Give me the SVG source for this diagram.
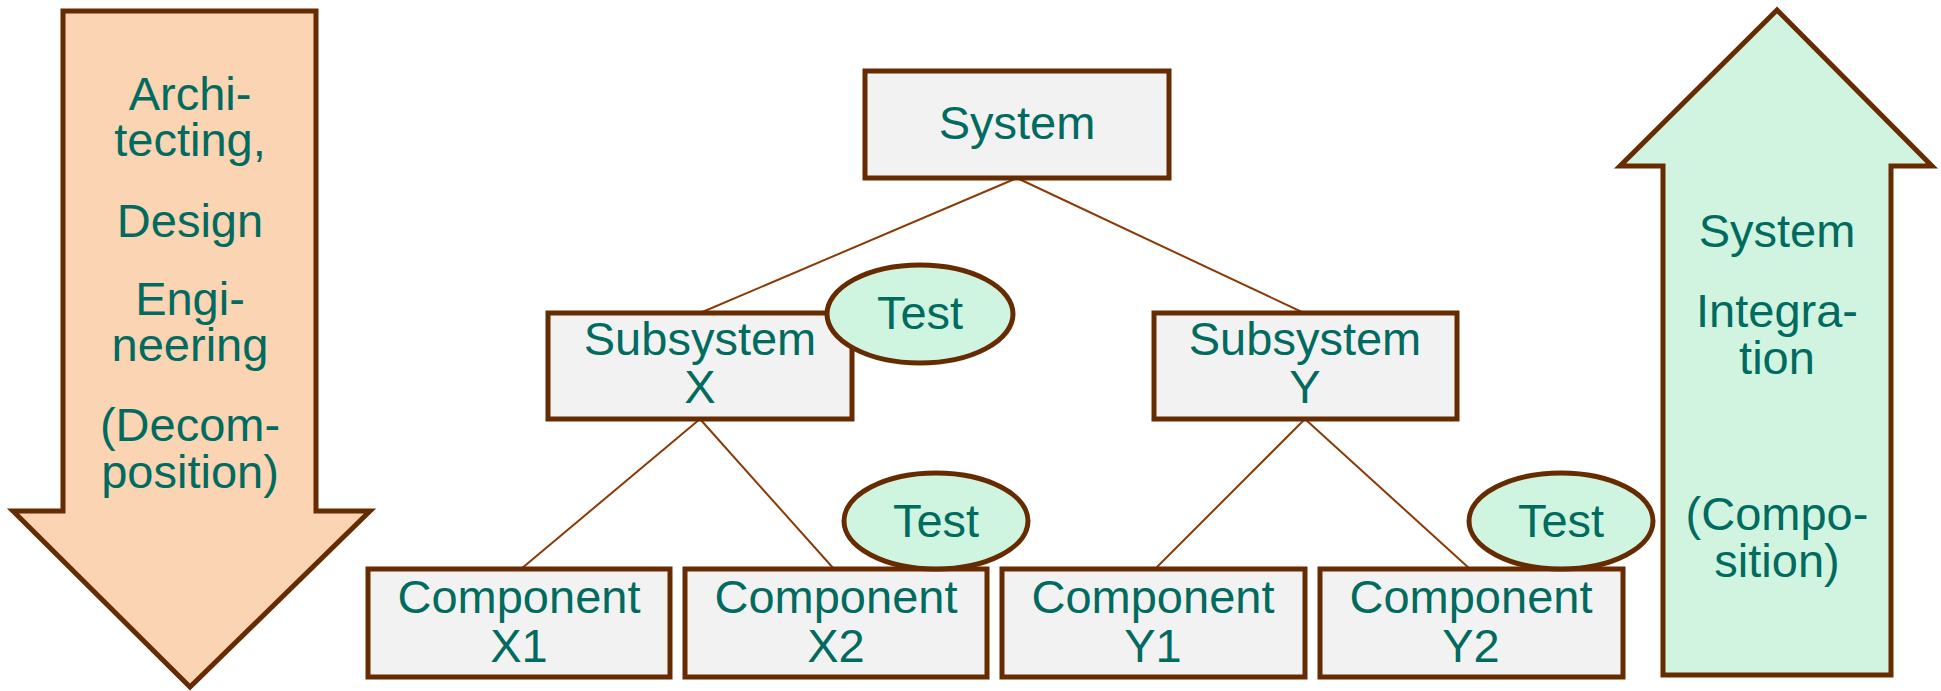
<svg xmlns="http://www.w3.org/2000/svg" width="1941" height="691" viewBox="0 0 1941 691">
<style>
.box{fill:#F2F2F2;stroke:#662B00;stroke-width:5;}
.test{fill:#CFF5E1;stroke:#662B00;stroke-width:5;}
.arrow{stroke:#662B00;stroke-width:5;stroke-linejoin:miter;}
.conn{stroke:#8B3A06;stroke-width:2;fill:none;}
text{font-family:"Liberation Sans",Arial,sans-serif;font-size:47px;fill:#006B5E;text-anchor:middle;}
</style>
<rect width="1941" height="691" fill="#FFFFFF"/>
<g id="decomposition-arrow">
<polygon class="arrow" fill="#FBD4B4" points="63,11 316,11 316,511 370,511 190,687 13,511 63,511"/>
<text x="190" y="110">Archi-</text>
<text x="190" y="156">tecting,</text>
<text x="190" y="237">Design</text>
<text x="190" y="315">Engi-</text>
<text x="190" y="361">neering</text>
<text x="190" y="441">(Decom-</text>
<text x="190" y="488">position)</text>
</g>
<g id="integration-arrow">
<polygon class="arrow" fill="#D0F4E0" points="1777,10 1932,166 1891,166 1891,675 1663,675 1663,166 1620,166"/>
<text x="1777" y="247">System</text>
<text x="1777" y="327">Integra-</text>
<text x="1777" y="374">tion</text>
<text x="1777" y="530">(Compo-</text>
<text x="1777" y="577">sition)</text>
</g>
<g id="connectors">
<line class="conn" x1="1017" y1="178" x2="700" y2="313"/>
<line class="conn" x1="1017" y1="178" x2="1304" y2="313"/>
<line class="conn" x1="700" y1="419" x2="521" y2="569"/>
<line class="conn" x1="700" y1="419" x2="834" y2="569"/>
<line class="conn" x1="1305" y1="419" x2="1155" y2="569"/>
<line class="conn" x1="1305" y1="419" x2="1470" y2="569"/>
</g>
<g id="system">
<rect class="box" x="865" y="71" width="304" height="107"/>
<text x="1017" y="139">System</text>
</g>
<g id="subsystem-x">
<rect class="box" x="548" y="313" width="304" height="106"/>
<text x="700" y="355">Subsystem</text>
<text x="700" y="403">X</text>
</g>
<g id="subsystem-y">
<rect class="box" x="1154" y="313" width="303" height="106"/>
<text x="1305" y="355">Subsystem</text>
<text x="1305" y="403">Y</text>
</g>
<g id="component-x1">
<rect class="box" x="368" y="569" width="302" height="108"/>
<text x="519" y="613">Component</text>
<text x="519" y="662">X1</text>
</g>
<g id="component-x2">
<rect class="box" x="685" y="569" width="302" height="108"/>
<text x="836" y="613">Component</text>
<text x="836" y="662">X2</text>
</g>
<g id="component-y1">
<rect class="box" x="1002" y="569" width="303" height="108"/>
<text x="1153" y="613">Component</text>
<text x="1153" y="662">Y1</text>
</g>
<g id="component-y2">
<rect class="box" x="1320" y="569" width="303" height="108"/>
<text x="1471" y="613">Component</text>
<text x="1471" y="662">Y2</text>
</g>
<g id="test-x">
<ellipse class="test" cx="920" cy="314" rx="93" ry="49"/>
<text x="920" y="329">Test</text>
</g>
<g id="test-x2">
<ellipse class="test" cx="936" cy="521" rx="92" ry="48"/>
<text x="936" y="537">Test</text>
</g>
<g id="test-y2">
<ellipse class="test" cx="1561" cy="521" rx="92" ry="48"/>
<text x="1561" y="537">Test</text>
</g>
</svg>
